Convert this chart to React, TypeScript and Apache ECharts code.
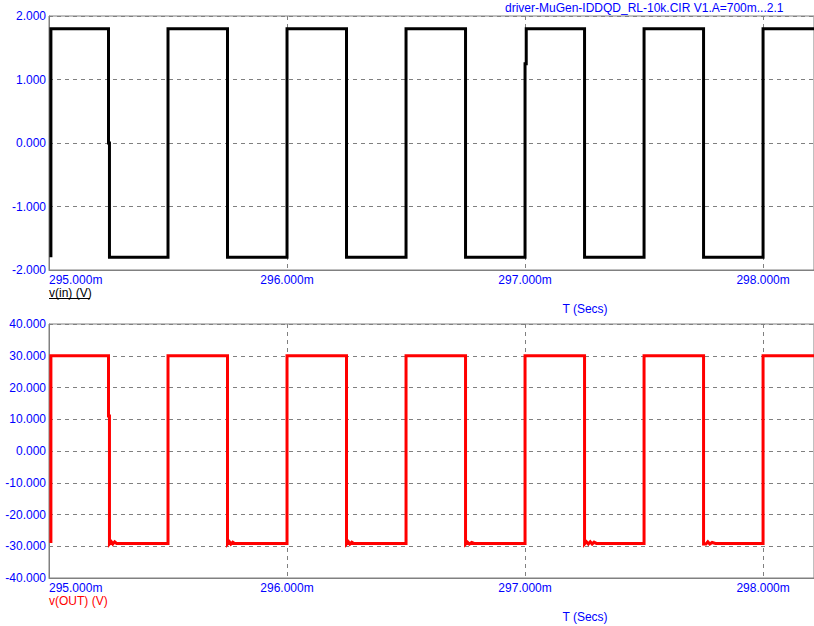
import React, { useEffect, useRef } from "react";
import * as echarts from "echarts";

// time in ms (m), values in V
const vinPoints: [number, number][] = [
  [295.008, -1.8], [295.008, 1.8],
  [295.25, 1.8], [295.25, 0.0], [295.254, 0.0], [295.254, -1.8],
  [295.5, -1.8], [295.5, 1.8],
  [295.75, 1.8], [295.75, -1.8],
  [296.0, -1.8], [296.0, 1.8],
  [296.25, 1.8], [296.25, -1.8],
  [296.5, -1.8], [296.5, 1.8],
  [296.75, 1.8], [296.75, -1.8],
  [297.0, -1.8], [297.0, 1.25], [297.005, 1.25], [297.005, 1.8],
  [297.25, 1.8], [297.25, -1.8],
  [297.5, -1.8], [297.5, 1.8],
  [297.75, 1.8], [297.75, -1.8],
  [298.0, -1.8], [298.0, 1.8],
  [298.3, 1.8],
];

const voutPoints: [number, number][] = [
  [295.008, -29.0], [295.008, 30.0],
  [295.25, 30.0], [295.25, 11.0], [295.254, 11.0], [295.254, -29.3],
  [295.262, -28.6], [295.268, -29.3], [295.276, -28.6], [295.284, -29.1],
  [295.5, -29.1], [295.5, 30.0],
  [295.75, 30.0], [295.75, -29.3], [295.758, -28.6], [295.764, -29.3],
  [295.772, -28.7], [295.78, -29.1],
  [296.0, -29.1], [296.0, 30.0],
  [296.25, 30.0], [296.25, -29.3], [296.258, -28.6], [296.264, -29.3],
  [296.272, -28.7], [296.28, -29.1],
  [296.5, -29.1], [296.5, 30.0],
  [296.75, 30.0], [296.75, -29.3], [296.758, -28.7], [296.766, -29.3],
  [296.776, -28.8], [296.786, -29.1],
  [297.0, -29.1], [297.0, 30.0],
  [297.25, 30.0], [297.25, -29.3], [297.258, -28.6], [297.266, -29.3],
  [297.274, -28.6], [297.282, -29.3], [297.29, -28.7], [297.3, -29.1],
  [297.5, -29.1], [297.5, 30.0],
  [297.75, 30.0], [297.75, -29.3], [297.76, -29.3], [297.768, -28.6],
  [297.776, -29.3], [297.786, -28.8], [297.8, -29.1],
  [298.0, -29.1], [298.0, 30.0],
  [298.3, 30.0],
];

const xMin = 295;
const xMax = 298.214;
const xInterval = 1;
const topYMin = -2, topYMax = 2, topYInterval = 1;
const botYMin = -40, botYMax = 40, botYInterval = 10;

const titleText = "driver-MuGen-IDDQD_RL-10k.CIR V1.A=700m...2.1";
const topSeriesName = "v(in) (V)";
const botSeriesName = "v(OUT) (V)";
const xAxisName = "T (Secs)";

const FONT = "'Liberation Sans', Arial, sans-serif";
const BLUE = "#0000ff";
const GRAY = "#808080";

export default function App() {
  const ref = useRef<HTMLDivElement>(null);
  useEffect(() => {
    if (!ref.current) return;
    const chart = echarts.init(ref.current, undefined, { renderer: "svg" });
    const xAxisBase = (gridIndex: number) => ({
      type: "value" as const,
      gridIndex,
      min: xMin,
      max: xMax,
      interval: xInterval,
      axisLine: { show: true, onZero: false, lineStyle: { color: GRAY, width: 1 } },
      axisTick: { show: false },
      axisLabel: {
        color: BLUE,
        fontSize: 12,
        fontFamily: FONT,
        margin: 4,
        showMaxLabel: false,
        alignMinLabel: "left",
        formatter: (v: number) => v.toFixed(3) + "m",
      },
      splitLine: { show: true, lineStyle: { color: GRAY, type: [4, 4], width: 1 } },
    });
    const yAxisBase = (gridIndex: number, min: number, max: number, interval: number) => ({
      type: "value" as const,
      gridIndex,
      min,
      max,
      interval,
      axisLine: { show: true, onZero: false, lineStyle: { color: GRAY, width: 1 } },
      axisTick: { show: false },
      axisLabel: {
        color: BLUE,
        fontSize: 12,
        fontFamily: FONT,
        margin: 3,
        formatter: (v: number) => v.toFixed(3),
      },
      splitLine: { show: true, lineStyle: { color: GRAY, type: [4, 4], width: 1 } },
    });
    chart.setOption({
      animation: false,
      backgroundColor: "#ffffff",
      grid: [
        { left: 49, top: 16, width: 766, height: 254, show: true, borderColor: GRAY, borderWidth: 1 },
        { left: 49, top: 324, width: 766, height: 254, show: true, borderColor: GRAY, borderWidth: 1 },
      ],
      xAxis: [xAxisBase(0), xAxisBase(1)],
      yAxis: [
        yAxisBase(0, topYMin, topYMax, topYInterval),
        yAxisBase(1, botYMin, botYMax, botYInterval),
      ],
      series: [
        {
          type: "line",
          xAxisIndex: 0,
          yAxisIndex: 0,
          data: vinPoints,
          showSymbol: false,
          symbol: "none",
          lineStyle: { color: "#000000", width: 3, join: "miter", cap: "butt" },
        },
        {
          type: "line",
          xAxisIndex: 1,
          yAxisIndex: 1,
          data: voutPoints,
          showSymbol: false,
          symbol: "none",
          lineStyle: { color: "#ff0000", width: 3, join: "miter", cap: "butt" },
        },
      ],
      graphic: [
        {
          type: "text",
          left: 505,
          top: 2,
          style: { text: titleText, fill: BLUE, font: `12px ${FONT}` },
        },
        {
          type: "text",
          left: 49,
          top: 287,
          style: { text: topSeriesName, fill: "#000000", font: `12px ${FONT}` },
        },
        {
          type: "line",
          shape: { x1: 49, y1: 298.5, x2: 90, y2: 298.5 },
          style: { stroke: "#000000", lineWidth: 1 },
        },
        {
          type: "text",
          x: 585,
          y: 309,
          style: { text: xAxisName, fill: BLUE, font: `12px ${FONT}`, align: "center", verticalAlign: "middle" },
        },
        {
          type: "text",
          left: 49,
          top: 595,
          style: { text: botSeriesName, fill: "#ff0000", font: `12px ${FONT}` },
        },
        {
          type: "text",
          x: 585,
          y: 617,
          style: { text: xAxisName, fill: BLUE, font: `12px ${FONT}`, align: "center", verticalAlign: "middle" },
        },
      ],
    });
    return () => chart.dispose();
  }, []);
  return (
    <div
      ref={ref}
      style={{ position: "absolute", left: 0, top: 0, width: 814, height: 626 }}
    />
  );
}
